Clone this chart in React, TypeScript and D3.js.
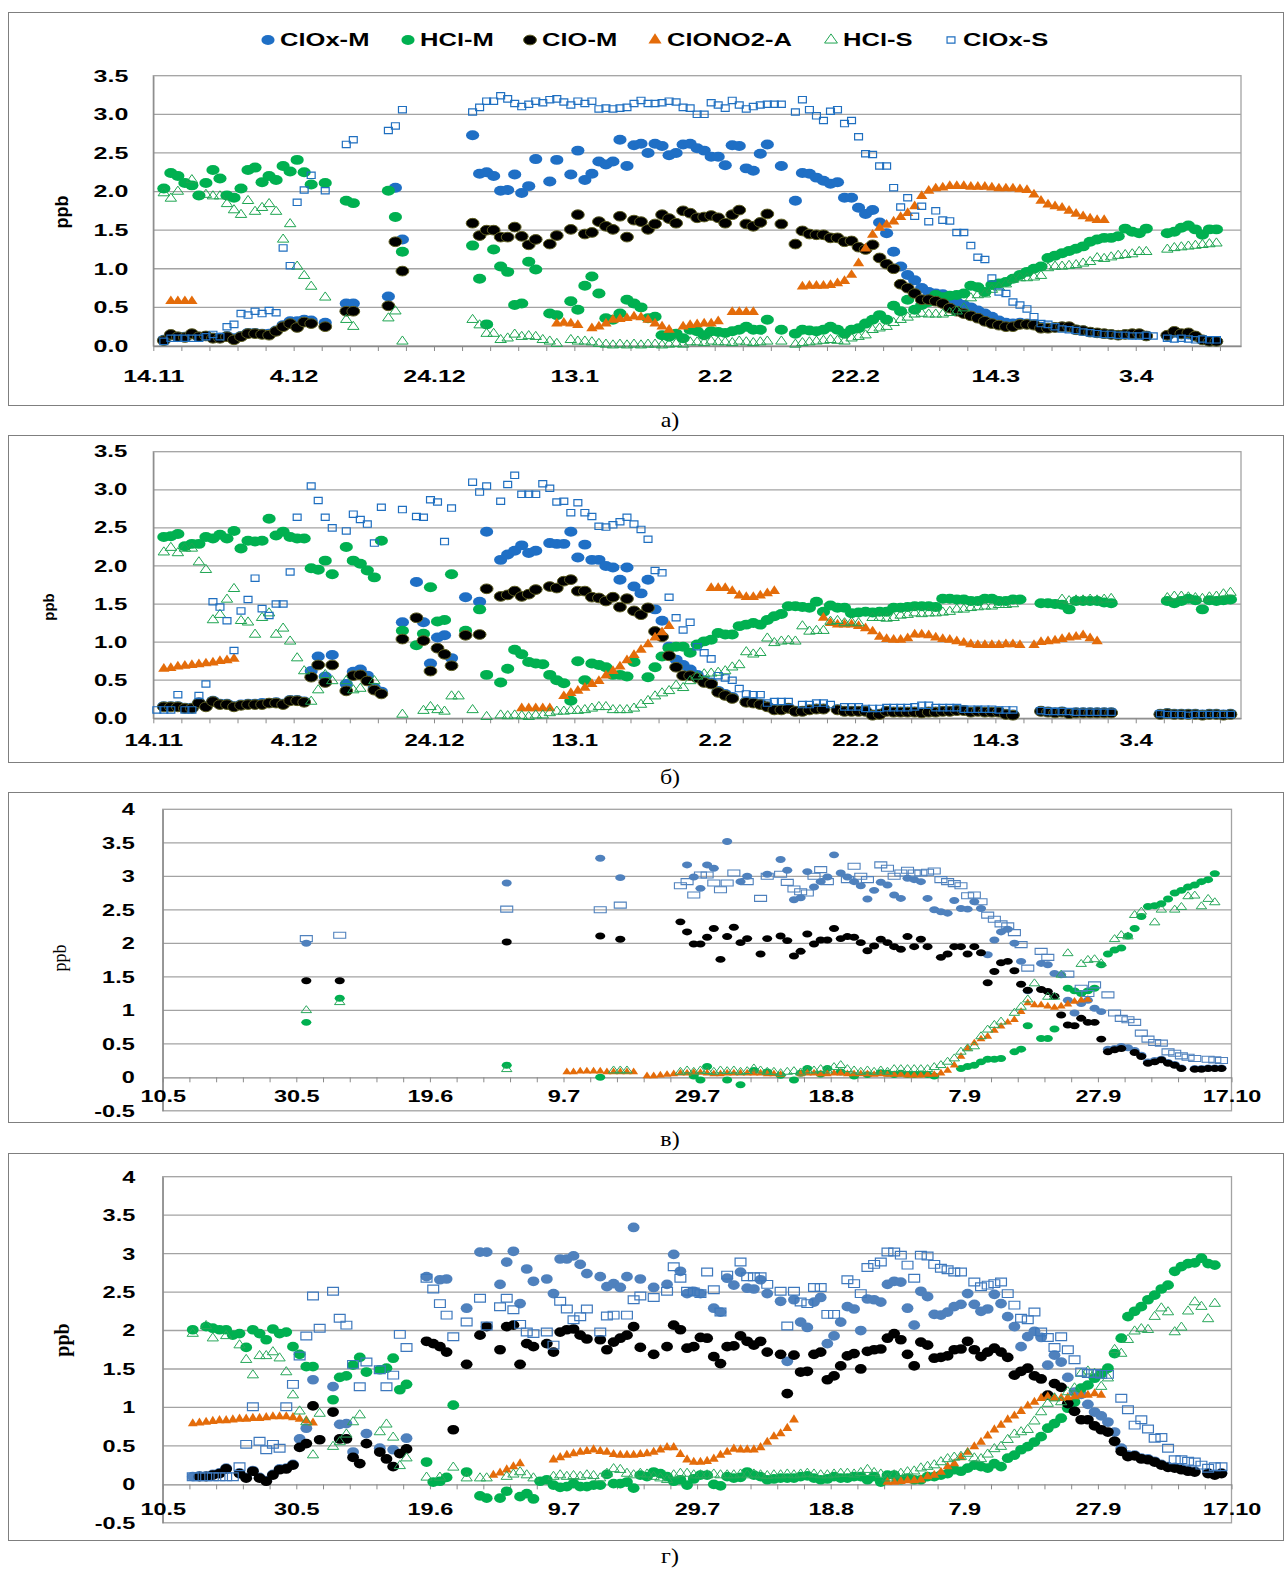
import * as d3 from "d3";
import { useEffect, useRef } from "react";

// a run = [first day index, daily values...]
type Run = [number, number[]];

const seriesNames = ["ClOx-M", "HCl-M", "ClO-M", "ClONO2-A", "HCl-S", "ClOx-S"];

// ---------- а) ----------
const aTickLabels = ["14.11", "4.12", "24.12", "13.1", "2.2", "22.2", "14.3", "3.4"];
const aClOxM: Run[] = [
  [1, [0.08, 0.14, 0.12, 0.12, 0.15, 0.12, 0.13, 0.11, 0.11, 0.13, 0.1, 0.13, 0.17, 0.17, 0.16, 0.16, 0.2, 0.27, 0.32, 0.32, 0.34, 0.33]],
  [24, [0.3]], [27, [0.55, 0.55]], [33, [0.64, 2.05, 1.38]],
  [45, [2.73, 2.23, 2.25, 2.2, 2.01, 2.02, 2.22, 1.98, 2.07, 2.42]],
  [56, [2.13, 2.41]],
  [59, [2.22, 2.53, 2.15, 2.23, 2.39, 2.35, 2.39, 2.67, 2.33, 2.6, 2.62, 2.5, 2.62, 2.59, 2.47, 2.5, 2.61, 2.62, 2.56, 2.53, 2.45, 2.45, 2.34, 2.6, 2.59, 2.3, 2.27, 2.49, 2.61]],
  [89, [2.33]],
  [91, [1.88, 2.24, 2.23, 2.18, 2.14, 2.1, 2.12, 1.92, 1.92, 1.79, 1.71, 1.76, 1.6, 1.46, 1.22, 1.03, 0.92, 0.85, 0.75, 0.7, 0.68, 0.67, 0.62, 0.57, 0.53, 0.5, 0.46, 0.42, 0.38, 0.33, 0.3, 0.29, 0.3, 0.29, 0.28, 0.25, 0.24, 0.24, 0.25, 0.24, 0.21, 0.2, 0.18, 0.17, 0.16, 0.15, 0.14, 0.15, 0.15, 0.15, 0.13]],
  [144, [0.13, 0.17, 0.15, 0.15, 0.12, 0.08, 0.06, 0.06]],
];
const aHClM: Run[] = [
  [1, [2.04, 2.24, 2.2, 2.11, 2.08, 1.95, 2.11, 2.28, 2.17, 1.95, 1.92, 2.04, 2.28, 2.31, 2.12, 2.2, 2.15, 2.33, 2.26, 2.41, 2.25, 2.09]],
  [24, [2.11]], [27, [1.88, 1.85]], [33, [2.01, 1.67, 1.22]],
  [45, [1.3, 0.87, 0.28, 1.25, 1.03, 0.96, 0.53, 0.55, 1.09, 0.99]],
  [56, [0.42, 0.4]],
  [59, [0.58, 0.47, 0.78, 0.9, 0.68, 0.36, 0.34, 0.42, 0.6, 0.55, 0.5, 0.36, 0.38, 0.14, 0.12, 0.16, 0.1, 0.21, 0.19, 0.14, 0.19, 0.18, 0.17, 0.19, 0.21, 0.25, 0.21, 0.21, 0.34]],
  [89, [0.21]],
  [91, [0.16, 0.21, 0.2, 0.19, 0.21, 0.25, 0.21, 0.16, 0.21, 0.23, 0.29, 0.34, 0.4, 0.34, 0.52, 0.45, 0.6, 0.47, 0.53, 0.57, 0.66, 0.63, 0.65, 0.66, 0.68, 0.78, 0.76, 0.7, 0.79, 0.81, 0.83, 0.87, 0.92, 0.96, 1.0, 1.03, 1.14, 1.17, 1.2, 1.23, 1.26, 1.29, 1.35, 1.38, 1.4, 1.4, 1.42, 1.52, 1.48, 1.46, 1.52]],
  [144, [1.46, 1.48, 1.53, 1.56, 1.51, 1.44, 1.51, 1.51]],
];
const aClOM: Run[] = [
  [1, [0.07, 0.15, 0.12, 0.11, 0.16, 0.12, 0.13, 0.1, 0.1, 0.12, 0.08, 0.12, 0.16, 0.16, 0.15, 0.14, 0.19, 0.25, 0.29, 0.24, 0.31, 0.29]],
  [24, [0.25]], [27, [0.45, 0.45]], [33, [0.52, 1.35, 0.97]],
  [45, [1.59, 1.43, 1.5, 1.5, 1.41, 1.41, 1.54, 1.42, 1.31, 1.38]],
  [56, [1.32, 1.43]],
  [59, [1.51, 1.7, 1.45, 1.47, 1.61, 1.55, 1.51, 1.68, 1.41, 1.63, 1.61, 1.51, 1.58, 1.7, 1.65, 1.59, 1.75, 1.72, 1.66, 1.67, 1.69, 1.66, 1.59, 1.7, 1.76, 1.58, 1.55, 1.6, 1.71]],
  [89, [1.58]],
  [91, [1.32, 1.49, 1.45, 1.44, 1.44, 1.4, 1.4, 1.35, 1.36, 1.28, 1.25, 1.31, 1.14, 1.06, 1.0, 0.8, 0.75, 0.68, 0.6, 0.6, 0.58, 0.55, 0.49, 0.45, 0.42, 0.39, 0.36, 0.32, 0.29, 0.27, 0.25, 0.25, 0.28, 0.28, 0.27, 0.23, 0.23, 0.24, 0.25, 0.25, 0.21, 0.2, 0.18, 0.17, 0.16, 0.15, 0.14, 0.15, 0.16, 0.16, 0.13]],
  [144, [0.14, 0.19, 0.16, 0.17, 0.13, 0.08, 0.06, 0.06]],
];
const aClONO2: Run[] = [
  [2, [0.58, 0.58, 0.58, 0.58]],
  [57, [0.29, 0.3, 0.29, 0.27]],
  [62, [0.23, 0.25, 0.29, 0.34, 0.35, 0.36, 0.38, 0.37, 0.34, 0.29, 0.25, 0.21]],
  [75, [0.25, 0.27, 0.28, 0.29, 0.29, 0.32]],
  [82, [0.44, 0.44, 0.44, 0.44]],
  [92, [0.77, 0.78, 0.78, 0.78, 0.79, 0.81, 0.84, 0.92, 1.07, 1.26, 1.44, 1.53, 1.57, 1.61, 1.67, 1.72, 1.81, 1.94, 2.01, 2.04, 2.05, 2.07, 2.07, 2.07, 2.06, 2.06, 2.06, 2.05, 2.04, 2.04, 2.04, 2.03, 2.02, 1.96, 1.88, 1.83, 1.81, 1.79, 1.75, 1.71, 1.68, 1.65, 1.63, 1.63]],
];
const aHClS: Run[] = [
  [1, [1.98, 1.91, 2.0]], [5, [2.15]],
  [7, [1.96, 1.94, 1.94, 1.84, 1.76, 1.7, 1.88, 1.74, 1.79, 1.84, 1.74, 1.38, 1.58, 1.03, 0.91, 0.77]],
  [24, [0.63]], [27, [0.34, 0.25]], [33, [0.36, 0.45, 0.06]],
  [45, [0.34, 0.27, 0.16, 0.16, 0.08, 0.1, 0.15, 0.12, 0.13, 0.12, 0.08, 0.06, 0.03]],
  [59, [0.08, 0.06, 0.06, 0.05, 0.03, 0.02, 0.01, 0.02, 0.01, 0.02, 0.01, 0.02, 0.02, 0.01, 0.02, 0.03, 0.02, 0.05, 0.05, 0.04, 0.06, 0.05, 0.05, 0.04, 0.06, 0.05, 0.04, 0.05, 0.06]],
  [89, [0.06]],
  [91, [0.02, 0.04, 0.05, 0.06, 0.07, 0.08, 0.07, 0.06, 0.1, 0.12, 0.14, 0.21, 0.23, 0.25, 0.3, 0.34, 0.37, 0.41, 0.42, 0.41, 0.41, 0.41, 0.43, 0.45, 0.49, 0.62, 0.66, 0.67, 0.73, 0.76, 0.8, 0.86, 0.88, 0.88, 0.89, 0.91, 1.01, 1.03, 1.03, 1.04, 1.05, 1.07, 1.09, 1.14, 1.13, 1.15, 1.17, 1.18, 1.19, 1.22, 1.22]],
  [144, [1.25, 1.27, 1.28, 1.29, 1.3, 1.31, 1.32, 1.33]],
];
const aClOxS: Run[] = [
  [1, [0.06, 0.1, 0.1, 0.1, 0.1, 0.1, 0.12, 0.15, 0.12, 0.25, 0.28, 0.42, 0.4, 0.45, 0.42, 0.46, 0.43, 1.27, 1.04, 1.86, 2.02, 2.21]],
  [24, [2.01]], [27, [2.61, 2.67]], [33, [2.79, 2.85, 3.06]],
  [45, [3.03, 3.09, 3.17, 3.17, 3.24, 3.2, 3.14, 3.1, 3.13, 3.17, 3.15, 3.19, 3.2, 3.16, 3.12, 3.17, 3.14, 3.17, 3.07, 3.08, 3.07, 3.08, 3.09, 3.14, 3.18, 3.14, 3.14, 3.15, 3.17, 3.16, 3.09, 3.08, 3.0, 3.0, 3.15, 3.12, 3.08, 3.18, 3.12, 3.07, 3.1, 3.12, 3.13, 3.13, 3.13]],
  [91, [3.03, 3.19, 3.06, 2.98, 2.92, 3.04, 3.06, 2.88, 2.92, 2.71, 2.49, 2.48, 2.33, 2.33, 2.05, 1.8, 1.92, 1.68, 1.81, 1.61, 1.75, 1.63, 1.62, 1.47, 1.47, 1.3, 1.15, 1.12, 0.88, 0.7, 0.68, 0.57, 0.53, 0.48, 0.38, 0.29, 0.28, 0.25, 0.22, 0.21, 0.2, 0.18, 0.17, 0.16, 0.15, 0.15, 0.14, 0.14, 0.13, 0.13, 0.14, 0.13]],
  [144, [0.1, 0.09, 0.1, 0.09, 0.08, 0.09, 0.08, 0.08]],
];

// ---------- б) ----------
const bClOxM: Run[] = [
  [1, [0.16, 0.16, 0.16, 0.14, 0.14, 0.21, 0.16, 0.23, 0.19, 0.19, 0.16, 0.18, 0.19, 0.19, 0.2, 0.2, 0.21, 0.19, 0.24, 0.24, 0.22, 0.62, 0.81, 0.55, 0.83]],
  [27, [0.45, 0.61, 0.64, 0.56, 0.4, 0.35]], [35, [1.26]],
  [37, [1.79, 1.26, 0.72, 1.06, 1.09, 0.79]], [44, [1.59]], [46, [1.53, 2.45]],
  [49, [2.08, 2.15, 2.2, 2.27, 2.17, 2.2]],
  [56, [2.3, 2.29, 2.29, 2.45, 2.11, 2.28, 2.08, 2.08, 2.0, 1.98, 1.82, 1.98, 1.73, 1.64, 1.82, 1.43, 1.28, 0.94, 0.77, 0.7, 0.64, 0.57, 0.5, 0.47, 0.36, 0.32, 0.28]],
  [84, [0.22, 0.21, 0.19, 0.16, 0.12, 0.12, 0.14, 0.1, 0.1, 0.12, 0.13, 0.13]],
  [97, [0.12, 0.1, 0.1, 0.1, 0.1, 0.05, 0.06, 0.1, 0.09, 0.09, 0.09, 0.09, 0.08, 0.09, 0.09, 0.1, 0.1, 0.11, 0.11, 0.09, 0.1, 0.09, 0.09, 0.09, 0.06, 0.05]],
  [126, [0.1, 0.09, 0.08, 0.09, 0.07, 0.08, 0.08, 0.08, 0.08, 0.08, 0.08]],
  [143, [0.06, 0.07, 0.06, 0.06, 0.06, 0.06, 0.05, 0.06, 0.06, 0.05, 0.06]],
];
const bHClM: Run[] = [
  [1, [2.38, 2.39, 2.42, 2.26, 2.29, 2.29, 2.38, 2.36, 2.41, 2.36, 2.46, 2.23, 2.33, 2.32, 2.33, 2.62, 2.4, 2.45, 2.38, 2.36, 2.36, 1.97, 1.95, 2.07, 1.89]],
  [27, [2.25, 2.07, 2.03, 1.94, 1.85, 2.33]], [35, [1.15]],
  [37, [0.96, 1.11, 1.72, 1.27, 1.29, 1.89]], [44, [1.15]], [46, [1.43, 0.57]],
  [49, [0.47, 0.65, 0.9, 0.84, 0.74, 0.72, 0.71, 0.57, 0.5, 0.46, 0.23, 0.75, 0.5, 0.72, 0.7, 0.67, 0.57, 0.57, 0.55, 0.74]],
  [70, [0.54, 0.67, 0.81, 0.92, 0.94, 0.94, 0.86, 0.97, 1.01, 1.03, 1.12, 1.1, 1.1, 1.21, 1.23, 1.25, 1.23, 1.29, 1.34, 1.37, 1.47, 1.47, 1.46, 1.45, 1.53, 1.4, 1.48, 1.45, 1.45, 1.38, 1.39, 1.4, 1.39, 1.4, 1.4, 1.45, 1.45, 1.46, 1.47, 1.47, 1.47, 1.46, 1.57, 1.57, 1.56, 1.56, 1.54, 1.54, 1.57, 1.57, 1.54, 1.54, 1.56, 1.56]],
  [126, [1.51, 1.51, 1.5, 1.49, 1.43, 1.54, 1.54, 1.54, 1.54, 1.52, 1.51]],
  [144, [1.54, 1.51, 1.54, 1.57, 1.55, 1.43, 1.55, 1.54, 1.55, 1.56]],
];
const bClOM: Run[] = [
  [1, [0.15, 0.15, 0.15, 0.13, 0.13, 0.2, 0.15, 0.22, 0.18, 0.18, 0.15, 0.17, 0.18, 0.18, 0.18, 0.2, 0.2, 0.18, 0.23, 0.23, 0.21, 0.54, 0.7, 0.47, 0.7]],
  [27, [0.36, 0.56, 0.57, 0.49, 0.37, 0.32]], [35, [1.04]],
  [37, [1.32, 1.02, 0.62, 0.92, 0.84, 0.69]], [44, [1.09]], [46, [1.1, 1.7]],
  [49, [1.6, 1.62, 1.67, 1.6, 1.63, 1.69]],
  [56, [1.73, 1.71, 1.8, 1.82, 1.67, 1.67, 1.59, 1.58, 1.54, 1.59, 1.46, 1.57, 1.41, 1.36, 1.45, 1.14, 1.07, 0.82, 0.67, 0.56, 0.56, 0.53, 0.47, 0.45, 0.34, 0.3, 0.26]],
  [84, [0.21, 0.2, 0.18, 0.15, 0.11, 0.11, 0.13, 0.09, 0.09, 0.11, 0.12, 0.12]],
  [97, [0.11, 0.09, 0.09, 0.09, 0.09, 0.04, 0.05, 0.09, 0.08, 0.08, 0.08, 0.08, 0.07, 0.08, 0.08, 0.09, 0.09, 0.1, 0.1, 0.08, 0.09, 0.08, 0.08, 0.08, 0.05, 0.04]],
  [126, [0.09, 0.08, 0.07, 0.08, 0.06, 0.07, 0.07, 0.07, 0.07, 0.07, 0.07]],
  [143, [0.05, 0.06, 0.05, 0.05, 0.05, 0.05, 0.04, 0.05, 0.05, 0.04, 0.05]],
];
const bClONO2: Run[] = [
  [1, [0.65, 0.66, 0.68, 0.69, 0.7, 0.71, 0.72, 0.73, 0.75, 0.76, 0.78]],
  [52, [0.13, 0.13, 0.13, 0.13, 0.13]],
  [58, [0.29, 0.33, 0.36, 0.4, 0.45, 0.49, 0.56, 0.62, 0.68, 0.76, 0.83, 0.9, 0.97, 1.06, 1.13, 1.21]],
  [79, [1.71, 1.71, 1.71, 1.67, 1.61, 1.59, 1.59, 1.61, 1.64, 1.67]],
  [95, [1.32, 1.25, 1.23, 1.23, 1.23, 1.21, 1.18, 1.14, 1.07, 1.04, 1.03, 1.03, 1.05, 1.1, 1.1, 1.09, 1.06, 1.04, 1.03, 1.01, 0.99, 0.97, 0.96, 0.96, 0.96, 0.96, 0.97, 0.97, 0.96]],
  [125, [0.96, 1.0, 1.01, 1.02, 1.04, 1.06, 1.07, 1.09, 1.05, 1.01]],
];
const bHClS: Run[] = [
  [1, [2.18, 2.24, 2.17, 2.23, 2.23, 2.05, 1.95, 1.29, 1.36, 1.56, 1.7, 1.28, 1.26, 1.1, 1.32, 1.38, 1.1, 1.18, 1.01, 0.79, 0.62, 0.22, 0.37, 0.57, 0.49]],
  [27, [0.49, 0.37, 0.39]], [31, [0.49]], [35, [0.05]],
  [38, [0.1, 0.15, 0.11, 0.09, 0.29, 0.29]], [45, [0.11]], [47, [0.02]],
  [49, [0.04, 0.03, 0.04, 0.03, 0.02, 0.04, 0.04, 0.07, 0.09, 0.09, 0.1, 0.1, 0.11, 0.13, 0.15, 0.15, 0.11, 0.11, 0.11, 0.13, 0.18, 0.23, 0.29, 0.33, 0.36, 0.43, 0.4, 0.49, 0.55, 0.58, 0.59, 0.6, 0.62, 0.67, 0.7, 0.87, 0.84, 0.86, 1.05, 0.99, 1.01, 1.02, 1.01, 1.21, 1.14, 1.15, 1.15, 1.27, 1.28, 1.25, 1.26, 1.25]],
  [102, [1.32, 1.32, 1.31, 1.32, 1.35, 1.36, 1.38, 1.37, 1.38, 1.38, 1.39, 1.4, 1.43, 1.43, 1.45, 1.46, 1.47, 1.47, 1.49, 1.49, 1.5]],
  [129, [1.56, 1.54, 1.55, 1.55, 1.56, 1.55, 1.56, 1.57]],
  [144, [1.58, 1.6, 1.6, 1.59, 1.58, 1.57, 1.59, 1.6, 1.63, 1.65]],
];
const bClOxS: Run[] = [
  [0, [0.11, 0.11, 0.11, 0.31, 0.11, 0.11, 0.3, 0.45, 1.53, 1.46, 1.28, 0.89, 1.41, 1.56, 1.84, 1.44, 1.35, 1.5, 1.5, 1.92, 2.64]],
  [22, [3.05, 2.86, 2.64, 2.5]], [27, [2.46, 2.68, 2.61, 2.55, 2.3, 2.77]], [35, [2.74]],
  [37, [2.65, 2.64, 2.87, 2.84, 2.32, 2.76]], [45, [3.1, 2.97, 3.05]],
  [49, [2.85, 3.07, 3.19, 2.94, 2.94, 2.94, 3.08, 3.02, 2.84, 2.85, 2.7, 2.83, 2.7, 2.65, 2.52, 2.51, 2.54, 2.58, 2.64, 2.55, 2.48, 2.35, 1.94, 1.91, 1.59, 1.32, 1.16, 1.26, 0.94, 0.86, 0.78, 0.56, 0.53, 0.5, 0.39, 0.32, 0.31, 0.31, 0.2, 0.22, 0.22, 0.22]],
  [92, [0.18, 0.18, 0.2, 0.2, 0.18]],
  [98, [0.15, 0.15, 0.15, 0.13, 0.13, 0.13, 0.14, 0.14, 0.14, 0.14, 0.15, 0.17, 0.17, 0.14, 0.14, 0.14, 0.14, 0.12, 0.12, 0.12, 0.12, 0.12, 0.11, 0.11, 0.11]],
  [126, [0.1, 0.09, 0.09, 0.09, 0.09, 0.08, 0.08, 0.08, 0.08, 0.08, 0.08]],
  [143, [0.06, 0.05, 0.05, 0.05, 0.04, 0.05, 0.05, 0.05, 0.05, 0.05, 0.05]],
];

// ---------- в) ----------
const cTickLabels = ["10.5", "30.5", "19.6", "9.7", "29.7", "18.8", "7.9", "27.9", "17.10"];
const cClOxM: Run[] = [
  [21, [2.0]], [51, [2.9]], [65, [3.27]], [68, [2.98]],
  [78, [3.17, 2.99, 2.82, 3.17, 3.12]], [84, [3.52]], [86, [2.92, 3.0]], [90, [3.03]],
  [92, [3.25, 3.09, 2.65, 2.68, 3.07, 2.84, 2.92, 2.99, 3.32, 3.05, 2.99, 2.92, 2.86, 2.66, 2.79, 2.91, 2.87, 2.72, 2.67, 2.97, 2.95, 2.92, 2.67, 2.5, 2.47, 2.45, 2.64, 2.52, 2.51, 2.62, 2.52, 1.83, 2.05, 2.17, 2.21, 2.0, 1.73, 1.29]],
  [131, [1.7, 1.68, 1.55, 1.53, 1.15, 0.96, 1.1, 1.15, 1.03, 0.98, 0.42, 0.43, 0.46, 0.44, 0.4, 0.33, 0.23, 0.25, 0.27, 0.22, 0.19, 0.14]],
  [154, [0.13, 0.13, 0.14, 0.14, 0.14]],
];
const cHClM: Run[] = [
  [21, [0.82]], [26, [1.18]], [51, [0.18]], [65, [0.0]],
  [79, [0.02, -0.04, 0.16]], [84, [-0.04]], [86, [-0.11]], [88, [0.1]], [90, [0.08]], [92, [0.03]],
  [94, [-0.04, 0.06, 0.13]], [98, [0.05, 0.13]], [101, [0.08]], [103, [0.02]], [105, [0.04]],
  [107, [0.07, 0.06, 0.04, 0.06, 0.04, 0.04, 0.05, 0.04, 0.02]],
  [119, [0.13, 0.16, 0.18, 0.23, 0.27, 0.27, 0.28]],
  [127, [0.38, 0.42, 0.77]], [131, [0.58, 0.58, 0.72]],
  [135, [1.33, 1.29, 1.25, 1.29, 1.33, 1.68, 1.84, 1.9, 1.93, 2.11, 2.22, 2.4, 2.55, 2.56, 2.59, 2.66, 2.75, 2.79, 2.84, 2.87, 2.92, 2.95, 3.04]],
];
const cClOM: Run[] = [
  [21, [1.44]], [26, [1.44]], [51, [2.02]], [65, [2.11]], [68, [2.06]],
  [77, [2.32, 2.17, 1.99, 1.99, 2.09, 2.22, 1.76, 2.1, 2.24, 2.01, 2.07]],
  [89, [1.84, 2.07]],
  [92, [2.11, 2.04, 1.81, 1.88, 2.14, 1.99, 2.05, 2.05, 2.22, 2.07, 2.1, 2.09, 2.01, 1.89, 1.96, 2.06, 2.01, 1.95, 1.91, 2.1, 1.95, 2.06, 1.95]],
  [116, [1.79, 1.84, 1.95, 1.95, 1.84, 1.95, 1.86, 1.41, 1.58, 1.71, 1.73, 1.59, 1.39, 1.3]],
  [131, [1.31, 1.28, 1.21, 0.93, 0.78, 0.77, 0.88, 0.82, 0.82, 0.57, 0.38, 0.41, 0.43]],
  [145, [0.37, 0.31, 0.21, 0.23, 0.26, 0.21, 0.18, 0.13]],
  [154, [0.12, 0.12, 0.13, 0.13, 0.13]],
];
const cClONO2: Run[] = [
  [60, [0.08, 0.08, 0.09, 0.09, 0.09, 0.09, 0.08, 0.08, 0.08, 0.08, 0.08]],
  [72, [0.02, 0.02, 0.03, 0.04, 0.05, 0.06, 0.06, 0.07, 0.07, 0.06, 0.05, 0.05, 0.06, 0.06, 0.06, 0.06, 0.06, 0.06, 0.05, 0.05, 0.04]],
  [95, [0.05, 0.06, 0.06, 0.05, 0.05, 0.06, 0.06, 0.05, 0.05, 0.05, 0.05, 0.04, 0.05, 0.04, 0.04, 0.04, 0.03, 0.03, 0.03, 0.04, 0.04, 0.06, 0.1, 0.18, 0.31, 0.43, 0.51, 0.57, 0.61, 0.7, 0.76, 0.82, 0.86, 0.98, 1.11, 1.08, 1.08, 1.06, 1.04, 1.06, 1.09, 1.13, 1.15, 1.16]],
];
const cHClS: Run[] = [
  [21, [1.0]], [26, [1.12]], [51, [0.12]], [67, [0.1, 0.1, 0.1]],
  [77, [0.08, 0.1, 0.08, 0.1, 0.09, 0.08, 0.1, 0.09, 0.1, 0.08, 0.09, 0.13, 0.1, 0.08, 0.08, 0.06, 0.08, 0.09, 0.07, 0.1, 0.1, 0.12, 0.1, 0.15, 0.18, 0.12, 0.1, 0.08, 0.1, 0.08, 0.1, 0.08, 0.12, 0.12, 0.12, 0.12, 0.12, 0.12, 0.15, 0.18, 0.23, 0.28, 0.38, 0.43, 0.46, 0.61, 0.71, 0.78, 0.83]],
  [127, [0.96, 1.05, 1.16, 1.4]], [132, [1.2, 1.2, 1.53, 1.85]], [137, [1.69, 1.75, 1.76, 1.7]],
  [142, [2.06, 2.12, 2.1, 2.42, 2.47]], [148, [2.31, 2.5]],
  [151, [2.5, 2.54, 2.7, 2.71, 2.55, 2.66, 2.61]],
];
const cClOxS: Run[] = [
  [21, [2.07]], [26, [2.12]], [51, [2.51]], [65, [2.5]], [68, [2.57]],
  [77, [2.86, 2.92, 2.72, 3.02, 3.02, 2.9, 2.8, 2.9, 3.05]], [87, [2.92]], [89, [2.67, 3.0]],
  [92, [3.03, 2.91, 2.81, 2.77, 2.75, 3.0, 3.1, 2.92]], [102, [2.95, 3.15, 3.0, 2.95]],
  [107, [3.17, 3.12, 3.0, 3.05, 3.09, 3.05, 3.05, 3.06, 3.08, 2.95, 2.92, 2.89, 2.86, 2.71, 2.72, 2.62, 2.42, 2.36, 2.29, 2.26, 2.16, 1.98, 1.63]],
  [131, [1.88, 1.79]], [135, [1.54]], [137, [1.33, 1.25, 1.38]],
  [141, [1.23, 0.96, 0.88, 0.86, 0.82, 0.66, 0.57, 0.52, 0.51, 0.38, 0.36, 0.32, 0.3, 0.28]],
  [156, [0.27, 0.26, 0.25]],
];

// ---------- г) ----------
const dClOxM: Run[] = [
  [4, [0.1, 0.11, 0.11, 0.13, 0.15, 0.21]],
  [11, [0.15, 0.09, 0.18, 0.09, 0.05, 0.13, 0.2, 0.21, 0.26, 0.59, 0.73, 1.36]],
  [25, [1.27, 0.78, 0.79, 0.42]], [30, [0.66]], [32, [0.47]], [34, [0.45]], [36, [0.6]],
  [39, [2.7]], [41, [2.66, 2.67]], [45, [2.29]], [47, [3.02, 3.02]],
  [50, [2.6, 2.89, 3.03, 2.35, 2.8, 2.64]], [57, [2.67, 2.48, 2.93, 2.93, 2.97, 2.86, 2.74]],
  [65, [2.7, 2.57, 2.61, 2.56, 2.7, 3.34, 2.67]], [73, [2.56]],
  [75, [2.6, 2.99, 2.77, 2.48, 2.51, 2.48]], [82, [2.29, 2.24, 2.68, 2.59, 2.76, 2.55, 2.54, 2.66, 2.48]],
  [92, [2.38, 1.6, 2.4, 2.11, 2.04, 2.37, 2.43, 1.83, 1.93, 2.11, 2.31, 2.28, 2.0, 2.41, 2.4, 2.37, 2.6, 2.64, 2.63, 2.29, 2.07, 2.51, 2.44, 2.21, 2.2, 2.24, 2.31, 2.34, 2.48, 2.34, 2.25, 2.28, 2.47, 2.35, 2.18, 2.05, 1.79, 1.92, 1.99, 1.91, 1.55, 1.68, 1.59, 1.39, 1.2, 1.17, 1.04, 0.94, 0.89, 0.81, 0.68, 0.47, 0.38, 0.38, 0.34, 0.33, 0.3, 0.26, 0.23, 0.22, 0.2, 0.18, 0.17]],
  [156, [0.15, 0.13, 0.15]],
];
const dHClM: Run[] = [
  [4, [2.01]],
  [6, [2.05, 2.03, 2.01, 2.01, 1.94, 1.96, 1.78, 2.01, 1.96, 1.88, 2.02, 1.96, 1.98, 1.79, 1.69, 1.53, 1.53]],
  [25, [1.1, 1.39, 1.41, 1.55, 1.65, 1.46]], [32, [1.49, 1.51, 1.64, 1.23, 1.3]],
  [39, [0.29, 0.03, 0.04, 0.09, 1.03]], [45, [0.16]], [47, [-0.15, -0.18]], [50, [-0.18, -0.09]],
  [53, [-0.16, -0.12, -0.19, 0.04, 0.06, -0.01, -0.04, -0.03, 0.01, -0.03, -0.03, -0.01, -0.01, 0.13, 0.01, 0.01, 0.03, -0.05, 0.12, 0.1, 0.16, 0.14, 0.1, 0.04, 0.06, -0.01, 0.07, 0.12, 0.12, 0.0, -0.02, 0.1, 0.08, 0.09, 0.16, 0.12, 0.1, 0.06, 0.07, 0.08, 0.08, 0.08, 0.1, 0.11, 0.08, 0.06, 0.07, 0.1, 0.08, 0.08, 0.1, 0.1, 0.06, 0.1, 0.03, 0.12, 0.12, 0.06, 0.08, 0.06, 0.06, 0.1, 0.1, 0.12, 0.14, 0.19, 0.17, 0.21, 0.25, 0.23, 0.21, 0.27, 0.23, 0.34, 0.38, 0.45, 0.49, 0.55, 0.62, 0.73, 0.79, 0.86, 0.99, 1.07, 1.25, 1.29, 1.38, 1.44, 1.51, 1.7, 1.9, 2.18, 2.25, 2.31, 2.4, 2.46, 2.54, 2.59, 2.77, 2.83, 2.87, 2.88, 2.94, 2.87, 2.85]],
];
const dClOM: Run[] = [
  [5, [0.1, 0.1, 0.12, 0.14, 0.2]],
  [11, [0.14, 0.08, 0.17, 0.08, 0.04, 0.12, 0.19, 0.2, 0.25, 0.48, 0.53, 1.02, 0.58]],
  [25, [0.94, 0.59, 0.59, 0.35, 0.27, 0.53]], [32, [0.42, 0.33, 0.23, 0.4, 0.46]],
  [39, [1.86, 1.83, 1.79, 1.72, 0.71]], [45, [1.56]], [47, [1.94, 2.05]],
  [50, [1.75, 2.05, 2.07, 1.56, 1.83, 1.79]], [57, [1.83, 1.72, 1.98, 2.01, 2.02, 1.94, 1.89]],
  [65, [1.88, 1.75, 1.85, 1.9, 1.94, 2.05, 1.78]], [73, [1.69]],
  [75, [1.79, 2.07, 2.01, 1.77, 1.79, 1.91, 1.9, 1.66, 1.57, 1.79, 1.8, 1.93, 1.86, 1.81, 1.86, 1.72]],
  [92, [1.69, 1.18, 1.68, 1.46, 1.47, 1.69, 1.72, 1.36, 1.41, 1.54, 1.67, 1.7, 1.5, 1.73, 1.75, 1.76, 1.9, 1.96, 1.88, 1.69, 1.54, 1.85, 1.81, 1.64, 1.65, 1.67, 1.75, 1.76, 1.86, 1.75, 1.66, 1.72, 1.77, 1.72, 1.65, 1.42, 1.47, 1.51, 1.41, 1.37, 1.16, 1.31, 1.26, 1.05, 0.95, 0.84, 0.84, 0.76, 0.71, 0.68, 0.56, 0.43, 0.36, 0.37, 0.33, 0.32, 0.29, 0.25, 0.22, 0.21, 0.19, 0.17, 0.16]],
  [156, [0.14, 0.12, 0.14]],
];
const dClONO2: Run[] = [
  [4, [0.79, 0.8, 0.81, 0.82, 0.83, 0.83, 0.84, 0.85, 0.85, 0.86, 0.86, 0.87, 0.88, 0.88, 0.88, 0.87, 0.85, 0.83, 0.8]],
  [49, [0.12, 0.15, 0.19, 0.23, 0.27]],
  [58, [0.32, 0.35, 0.38, 0.4, 0.42, 0.43, 0.45, 0.43, 0.42, 0.39, 0.38, 0.38, 0.38, 0.39, 0.4, 0.42, 0.45, 0.48, 0.48, 0.39, 0.32, 0.29, 0.29, 0.3, 0.33, 0.38, 0.42, 0.46, 0.45, 0.45, 0.45, 0.48, 0.55, 0.62, 0.66, 0.73, 0.84]],
  [108, [0.03, 0.03, 0.04, 0.05, 0.05, 0.06, 0.1, 0.12, 0.16, 0.23, 0.27, 0.35, 0.42, 0.49, 0.55, 0.63, 0.71, 0.77, 0.84, 0.89, 0.95, 1.02, 1.07, 1.12, 1.14, 1.12, 1.12, 1.13, 1.14, 1.16, 1.16, 1.18, 1.16]],
];
const dHClS: Run[] = [
  [4, [1.96]], [6, [2.06, 1.9]], [9, [1.93]],
  [11, [1.81, 1.62, 1.42, 1.67, 1.67, 1.72, 1.64, 1.46, 1.16, 0.95, 0.81, 0.38, 0.92]],
  [25, [0.49, 0.55, 0.65, 0.81, 0.9]], [32, [0.68, 0.78, 0.61, 0.24, 0.34]],
  [39, [0.09]], [41, [0.09]], [43, [0.22]], [45, [0.08]], [47, [0.08, 0.08]],
  [51, [0.1, 0.13, 0.16, 0.12, 0.08]],
  [58, [0.1, 0.12, 0.1, 0.11, 0.1, 0.12, 0.11, 0.08, 0.14, 0.2, 0.19, 0.14, 0.12, 0.14, 0.13, 0.1, 0.08, 0.06, 0.12, 0.14, 0.14, 0.12, 0.12, 0.12, 0.13, 0.12, 0.12, 0.12, 0.13, 0.12, 0.13, 0.12, 0.11, 0.12, 0.12, 0.13, 0.12, 0.13, 0.14, 0.13, 0.12, 0.12, 0.13, 0.14, 0.14, 0.13, 0.15, 0.19, 0.15, 0.13, 0.08, 0.12, 0.14, 0.16, 0.17, 0.21, 0.23, 0.25, 0.29, 0.33, 0.35, 0.36, 0.4, 0.34, 0.33, 0.39, 0.46, 0.49, 0.58, 0.65, 0.68, 0.71, 0.82, 0.94, 1.05, 1.12, 1.07, 1.2, 1.25, 1.44, 1.47, 1.44, 1.27, 1.38, 1.75, 1.7, 1.88, 1.99, 2.02, 2.01, 2.18, 2.29, 2.24, 1.98, 2.04, 2.25, 2.37, 2.31, 2.15, 2.35]],
];
const dClOxS: Run[] = [
  [4, [0.1, 0.1, 0.1, 0.1, 0.1, 0.1, 0.1, 0.23, 0.52, 1.01, 0.56, 0.45, 0.52, 0.47, 1.01, 1.3, 1.67, 1.93, 2.45, 2.03]],
  [25, [2.51, 2.16, 2.07, 1.56, 1.27, 1.59]], [32, [1.49, 1.27, 1.42, 1.95, 1.78]],
  [39, [2.68, 2.54, 2.35, 2.2, 1.92]], [45, [2.11]], [47, [2.42, 2.06]],
  [50, [2.31, 2.42, 2.27, 2.08, 1.98, 1.96]], [57, [1.98, 1.81, 2.38, 2.28, 2.14, 2.18, 2.28]],
  [65, [1.98, 2.19, 2.2]], [69, [2.2, 2.4, 2.45]], [73, [2.43]],
  [75, [2.51, 2.83, 2.68, 2.51, 2.5, 2.48, 2.76, 2.53, 2.24, 2.72]], [86, [2.89, 2.7, 2.7, 2.7, 2.6]],
  [92, [2.51, 2.06, 2.51, 2.37, 2.35, 2.56, 2.56, 2.21, 2.21]],
  [102, [2.66, 2.61, 2.48, 2.82, 2.86, 2.89, 3.02, 3.02, 2.98, 2.85, 2.68, 2.98, 2.97, 2.86, 2.81, 2.79, 2.76, 2.76]],
  [121, [2.63, 2.57, 2.59, 2.61, 2.63, 2.48, 2.33, 2.16, 2.14, 2.24, 1.98, 1.91, 1.78, 1.92, 1.75, 1.62, 1.46, 1.44, 1.44, 1.43, 1.43]],
  [143, [1.12, 0.97, 0.77, 0.84, 0.72, 0.6, 0.61, 0.47, 0.32, 0.32, 0.3, 0.29, 0.25, 0.21, 0.23, 0.23]],
];

// ---------- styling ----------
const SANS = "'Liberation Sans', Arial, sans-serif";
const SERIF = "'Liberation Serif', 'Times New Roman', serif";
const GRID = "#a3a3a3";
const AXIS = "#8a8a8a";
const GREEN = "#00B050";
const ORANGE = "#E46C0A";

interface Mark {
  type: d3.SymbolType;
  size: number;
  sx: number;
  fill: string;
  stroke?: string;
  sw?: number;
}

const marksAB = (): Mark[] => [
  { type: d3.symbolCircle, size: 78, sx: 1.32, fill: "#1F6FC5" },
  { type: d3.symbolCircle, size: 78, sx: 1.32, fill: GREEN },
  { type: d3.symbolCircle, size: 74, sx: 1.32, fill: "#000", stroke: "#5e5e22", sw: 1 },
  { type: d3.symbolTriangle, size: 44, sx: 1.12, fill: ORANGE },
  { type: d3.symbolTriangle, size: 38, sx: 1.22, fill: "none", stroke: "#1fa552", sw: 1 },
  { type: d3.symbolSquare, size: 40, sx: 1.25, fill: "none", stroke: "#1F6FC0", sw: 1.2 },
];
const marksC = (): Mark[] => [
  { type: d3.symbolCircle, size: 38, sx: 1.45, fill: "#4F81BD" },
  { type: d3.symbolCircle, size: 38, sx: 1.45, fill: GREEN },
  { type: d3.symbolCircle, size: 38, sx: 1.45, fill: "#000" },
  { type: d3.symbolTriangle, size: 26, sx: 1.15, fill: ORANGE },
  { type: d3.symbolTriangle, size: 28, sx: 1.3, fill: "none", stroke: "#2aa85c", sw: 1 },
  { type: d3.symbolSquare, size: 36, sx: 2.0, fill: "none", stroke: "#4F81BD", sw: 1.1 },
];
const marksD = (): Mark[] => [
  { type: d3.symbolCircle, size: 74, sx: 1.22, fill: "#4F81BD" },
  { type: d3.symbolCircle, size: 74, sx: 1.22, fill: GREEN },
  { type: d3.symbolCircle, size: 74, sx: 1.22, fill: "#000" },
  { type: d3.symbolTriangle, size: 38, sx: 1.05, fill: ORANGE },
  { type: d3.symbolTriangle, size: 38, sx: 1.2, fill: "none", stroke: "#2aa85c", sw: 1 },
  { type: d3.symbolSquare, size: 60, sx: 1.4, fill: "none", stroke: "#3d78bd", sw: 1.2 },
];

interface Panel {
  frame: [number, number, number, number];
  left: number;
  right: number;
  top: number;
  bottom: number;
  yMin: number;
  yMax: number;
  days: number;
  yFmt: (v: number) => string;
  ticks: string[];
  series: Run[][];
  marks: Mark[];
  fs: number;
  sx: number;
  yPad: number;
  xOff: number;
  ppb: { x: number; y: number; size: number; font: string; weight: string };
  label: string;
  labelY: number;
}

const fmt1 = d3.format(".1f");
const fmtPlain = (v: number) => String(v);

const panels: Panel[] = [
  {
    frame: [8, 12, 1283, 405], left: 153.3, right: 1241, top: 75.7, bottom: 346,
    yMin: 0, yMax: 3.5, days: 155, yFmt: fmt1, ticks: aTickLabels,
    series: [aClOxM, aHClM, aClOM, aClONO2, aHClS, aClOxS], marks: marksAB(),
    fs: 17, sx: 1.47, yPad: 25, xOff: 30,
    ppb: { x: 62, y: 212, size: 18, font: SANS, weight: "bold" }, label: "а)", labelY: 427,
  },
  {
    frame: [8, 435, 1283, 762], left: 153.3, right: 1241, top: 451.7, bottom: 718.3,
    yMin: 0, yMax: 3.5, days: 155, yFmt: fmt1, ticks: aTickLabels,
    series: [bClOxM, bHClM, bClOM, bClONO2, bHClS, bClOxS], marks: marksAB(),
    fs: 16, sx: 1.5, yPad: 26, xOff: 22,
    ppb: { x: 48, y: 607, size: 15, font: SANS, weight: "bold" }, label: "б)", labelY: 784,
  },
  {
    frame: [8, 792, 1283, 1122], left: 162.7, right: 1231.5, top: 809.3, bottom: 1110.8,
    yMin: -0.5, yMax: 4, days: 160, yFmt: fmtPlain, ticks: cTickLabels,
    series: [cClOxM, cHClM, cClOM, cClONO2, cHClS, cClOxS], marks: marksC(),
    fs: 17, sx: 1.38, yPad: 28, xOff: 19,
    ppb: { x: 60, y: 958, size: 18, font: SERIF, weight: "normal" }, label: "в)", labelY: 1146,
  },
  {
    frame: [8, 1153, 1283, 1540], left: 162.7, right: 1231.5, top: 1176.7, bottom: 1522.8,
    yMin: -0.5, yMax: 4, days: 160, yFmt: fmtPlain, ticks: cTickLabels,
    series: [dClOxM, dHClM, dClOM, dClONO2, dHClS, dClOxS], marks: marksD(),
    fs: 17, sx: 1.38, yPad: 27.5, xOff: 25,
    ppb: { x: 62, y: 1340, size: 20, font: SERIF, weight: "bold" }, label: "г)", labelY: 1563,
  },
];

const toPoints = (runs: Run[]) =>
  runs.flatMap(([start, vals]) => vals.map((v, i) => ({ d: start + i + 0.5, v })));

function drawMarks(g: any, pts: { x: number; y: number }[], m: Mark) {
  g.append("g")
    .selectAll("path")
    .data(pts)
    .join("path")
    .attr("d", d3.symbol().type(m.type).size(m.size))
    .attr("transform", (p: any) => `translate(${p.x},${p.y}) scale(${m.sx},1)`)
    .attr("fill", m.fill)
    .attr("stroke", m.stroke ?? "none")
    .attr("stroke-width", m.sw ?? 0)
    .attr("vector-effect", "non-scaling-stroke");
}

function drawPanel(svg: any, p: Panel) {
  const g = svg.append("g");
  const [fx0, fy0, fx1, fy1] = p.frame;
  g.append("rect")
    .attr("x", fx0 + 0.5).attr("y", fy0 + 0.5)
    .attr("width", fx1 - fx0).attr("height", fy1 - fy0)
    .attr("fill", "none").attr("stroke", "#7f7f7f");

  const x = d3.scaleLinear().domain([0, p.days]).range([p.left, p.right]);
  const y = d3.scaleLinear().domain([p.yMin, p.yMax]).range([p.bottom, p.top]);
  const n = Math.round((p.yMax - p.yMin) / 0.5);
  const yTicks = d3.range(n + 1).map((i) => +(p.yMin + i * 0.5).toFixed(1));

  // gridlines
  g.append("g")
    .selectAll("line")
    .data(yTicks.filter((v) => v !== 0 && v !== p.yMin && v !== p.yMax))
    .join("line")
    .attr("x1", p.left).attr("x2", p.right)
    .attr("y1", (d: number) => y(d)).attr("y2", (d: number) => y(d))
    .attr("stroke", GRID).attr("stroke-width", 1.3);

  // plot area border
  g.append("rect")
    .attr("x", p.left).attr("y", p.top)
    .attr("width", p.right - p.left).attr("height", p.bottom - p.top)
    .attr("fill", "none").attr("stroke", GRID).attr("stroke-width", 1.3);

  // y axis
  const ya = g.append("g")
    .attr("transform", `translate(${p.left},0)`)
    .call(d3.axisLeft(y).tickValues(yTicks).tickSize(0).tickSizeOuter(0).tickFormat((d: any) => p.yFmt(+d)));
  ya.select(".domain").attr("stroke", AXIS).attr("stroke-width", 1.3);
  ya.selectAll("text")
    .attr("x", -p.yPad / p.sx)
    .attr("transform", `scale(${p.sx},1)`)
    .attr("font-size", p.fs).attr("font-weight", "bold")
    .attr("font-family", SANS).attr("fill", "#000");

  // x axis (category axis at value 0)
  const xa = g.append("g")
    .attr("transform", `translate(0,${y(0)})`)
    .call(
      d3.axisBottom(x)
        .tickValues(d3.range(0, p.days + 1, 4))
        .tickSize(5).tickSizeOuter(0)
        .tickFormat((d: any) => (+d % 20 === 0 ? p.ticks[+d / 20] : ""))
    );
  xa.select(".domain").attr("stroke", AXIS).attr("stroke-width", 1.3);
  xa.selectAll("line").attr("stroke", AXIS);
  xa.selectAll("text")
    .attr("y", p.xOff).attr("dy", "0.35em")
    .attr("transform", `scale(${p.sx},1)`)
    .attr("font-size", p.fs).attr("font-weight", "bold")
    .attr("font-family", SANS).attr("fill", "#000");

  // series, drawn in legend order so later ones sit on top
  p.series.forEach((runs, k) => {
    const pts = toPoints(runs).map((q) => ({ x: x(q.d), y: y(q.v) }));
    drawMarks(g, pts, p.marks[k]);
  });

  // ppb
  g.append("text")
    .attr("transform", `translate(${p.ppb.x},${p.ppb.y}) rotate(-90)`)
    .attr("text-anchor", "middle").attr("dominant-baseline", "central")
    .attr("font-family", p.ppb.font).attr("font-weight", p.ppb.weight)
    .attr("font-size", p.ppb.size).attr("fill", "#000")
    .text("ppb");

  // panel caption
  g.append("text")
    .attr("transform", `translate(670,${p.labelY}) scale(1.2,1)`)
    .attr("text-anchor", "middle")
    .attr("font-family", SERIF).attr("font-size", 20).attr("fill", "#000")
    .text(p.label);
}

const legendMarkX = [268, 408, 530, 655, 831, 951];

function drawLegend(svg: any) {
  const marks = marksAB();
  marks[3] = { ...marks[3], size: 60 };
  marks[4] = { ...marks[4], size: 48 };
  const g = svg.append("g");
  seriesNames.forEach((name, k) => {
    drawMarks(g, [{ x: legendMarkX[k], y: 40 }], marks[k]);
    g.append("text")
      .attr("transform", `translate(${legendMarkX[k] + 12},40) scale(1.42,1)`)
      .attr("dominant-baseline", "central")
      .attr("font-family", SANS).attr("font-weight", "bold")
      .attr("font-size", 18).attr("fill", "#000")
      .text(name);
  });
}

export default function App() {
  const svgRef = useRef<SVGSVGElement>(null);

  useEffect(() => {
    const svg = d3.select(svgRef.current);
    svg.selectAll("*").remove();
    svg.append("rect").attr("width", 1285).attr("height", 1571).attr("fill", "#fff");
    panels.forEach((p) => drawPanel(svg, p));
    drawLegend(svg);
  }, []);

  return (
    <svg
      ref={svgRef}
      width={1285}
      height={1571}
      style={{ position: "absolute", left: 0, top: 0 }}
    />
  );
}
